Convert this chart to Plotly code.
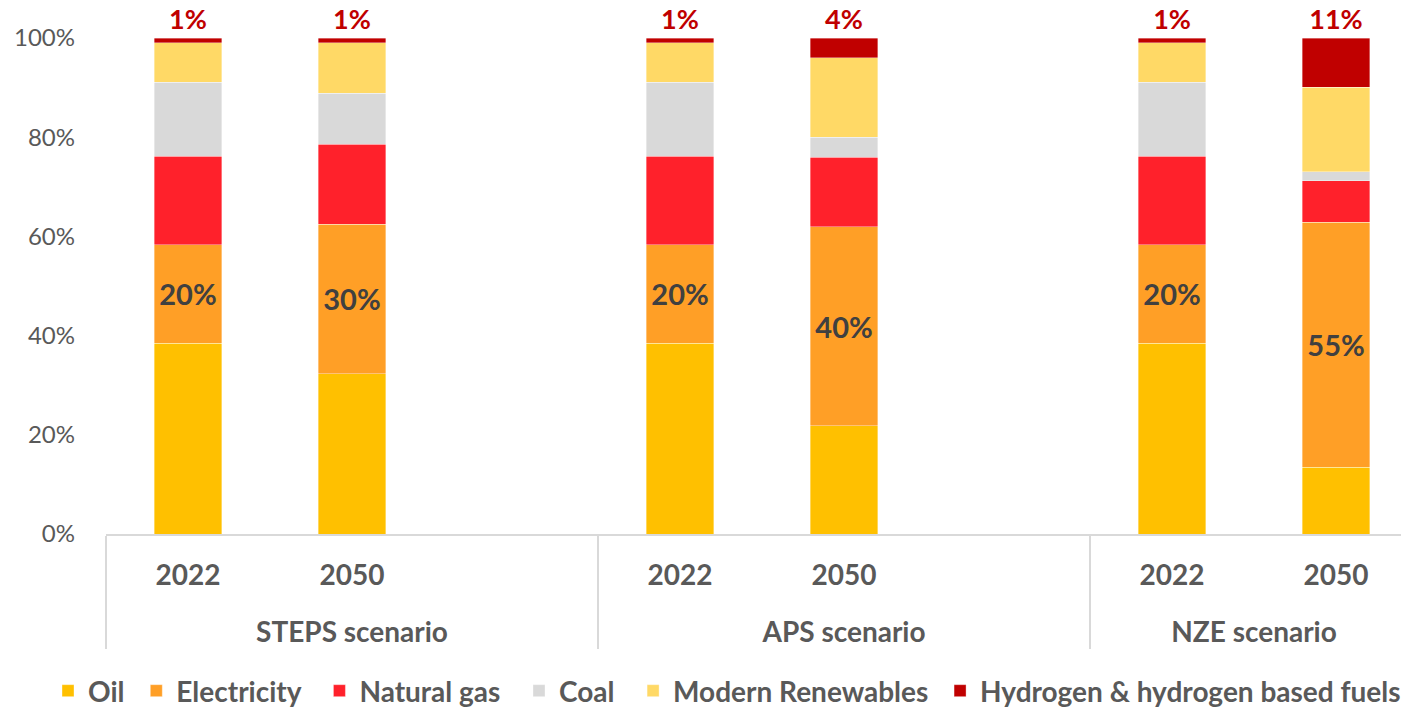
import plotly.graph_objects as go

scenarios = ["STEPS scenario", "STEPS scenario", "APS scenario", "APS scenario", "NZE scenario", "NZE scenario"]
years = ["2022", "2050", "2022", "2050", "2022", "2050"]

oil = [38.5, 32.3, 38.5, 21.8, 38.5, 13.5]
electricity = [19.8, 30.2, 19.8, 40.1, 19.8, 49.4]
natural_gas = [17.9, 16.1, 17.9, 14.1, 17.9, 8.3]
coal = [14.9, 10.3, 14.9, 4.0, 14.9, 1.8]
renewables = [7.9, 10.1, 7.9, 16.0, 7.9, 17.1]
hydrogen = [1.0, 1.0, 1.0, 4.0, 1.0, 9.9]

electricity_labels = ["20%", "30%", "20%", "40%", "20%", "55%"]
hydrogen_labels = ["1%", "1%", "1%", "4%", "1%", "11%"]

series = [
    ("Oil", oil, "#FFC000", None, 1),
    ("Electricity", electricity, "#FF9F26", electricity_labels, 2),
    ("Natural gas", natural_gas, "#FF212B", None, 2),
    ("Coal", coal, "#D9D9D9", None, 2),
    ("Modern Renewables", renewables, "#FFD966", None, 1),
    ("Hydrogen & hydrogen based fuels", hydrogen, "#C00000", hydrogen_labels, 1),
]

# Build x with a blank slot after each scenario group
group_order = ["STEPS scenario", "APS scenario", "NZE scenario"]
x_lvl0, x_lvl1, idx_map = [], [], []
for g in group_order:
    for i, (s, y) in enumerate(zip(scenarios, years)):
        if s == g:
            x_lvl0.append("<br>" + s); x_lvl1.append(y); idx_map.append(i)
    x_lvl0.append("<br>" + g); x_lvl1.append(" "); idx_map.append(None)

def expand(vals):
    return [vals[i] if i is not None else None for i in idx_map]

font_fam = "Lato"
fig = go.Figure()
for name, vals, color, labels, pad in series:
    kw = {}
    if name == "Electricity":
        kw = dict(text=expand(labels), textposition="inside", insidetextanchor="middle",
                  textangle=0, constraintext="none",
                  insidetextfont=dict(family=font_fam, size=29, color="#404040", weight="bold"))
    elif labels is not None:
        kw = dict(text=expand(labels), textposition="outside", textangle=0, constraintext="none",
                  outsidetextfont=dict(family=font_fam, size=27, color="#C00000", weight="bold"),
                  cliponaxis=False)
    fig.add_trace(go.Bar(
        x=[x_lvl0, x_lvl1], y=expand(vals), name=name + "\u00a0" * pad,
        marker=dict(color=color, line=dict(color="rgba(255,255,255,0.6)", width=0.6)),
        hoverinfo="skip", **kw))

# The page body adds an 8px offset, so the figure is sized/margined to compensate.
fig.update_layout(
    barmode="stack",
    bargap=0.59,
    width=1401, height=699,
    margin=dict(l=98, r=0, t=30, b=173, autoexpand=False),
    plot_bgcolor="white", paper_bgcolor="white",
    font=dict(family=font_fam, color="#595959"),
    legend=dict(orientation="h", x=-0.0445, xanchor="left", y=-0.3165, yanchor="middle",
                font=dict(family=font_fam, size=28, color="#595959", weight="bold"),
                traceorder="normal", itemclick=False),
    showlegend=True,
)
fig.update_xaxes(
    type="multicategory", range=[-0.5, 7.445], automargin=False,
    showline=True, linecolor="#D9D9D9", linewidth=2,
    showdividers=True, dividercolor="#D9D9D9", dividerwidth=1.5,
    tickfont=dict(family=font_fam, size=28, color="#595959", weight="bold"),
    ticks="", showgrid=False, ticklabelstandoff=15,
)
fig.update_yaxes(
    range=[0, 100], tickvals=[0, 20, 40, 60, 80, 100], automargin=False,
    ticktext=["0%", "20%", "40%", "60%", "80%", "100%"],
    tickfont=dict(family=font_fam, size=24, color="#595959"),
    showgrid=False, zeroline=False, showline=False, ticklen=0, ticks="",
    ticklabelstandoff=30,
)
fig.write_html("out.html")
